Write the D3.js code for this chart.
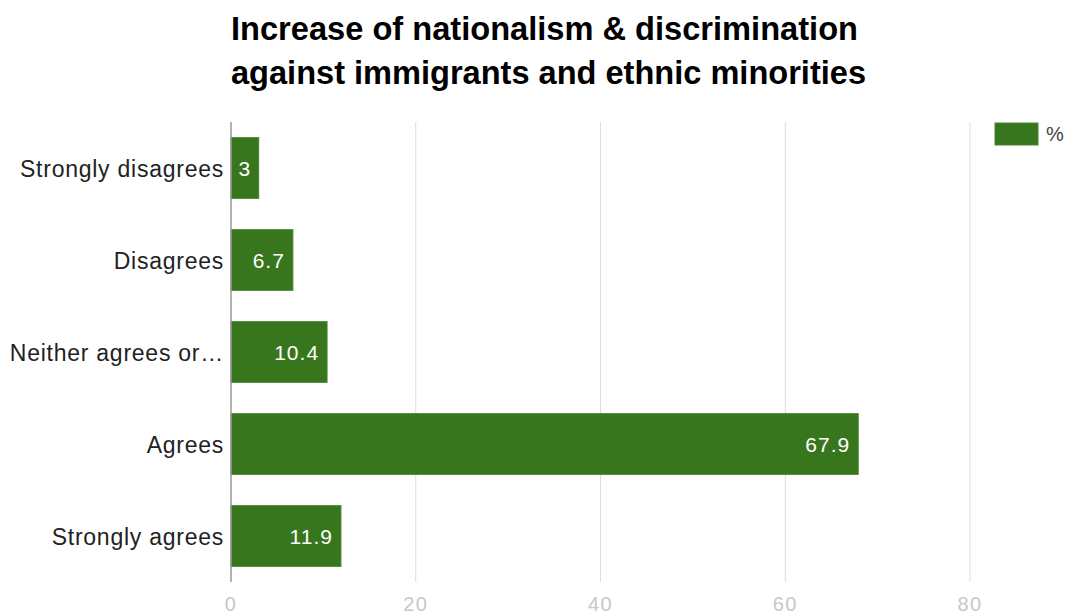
<!DOCTYPE html>
<html><head><meta charset="utf-8">
<script src="https://cdn.jsdelivr.net/npm/d3@7"></script>
<style>body{margin:0;background:#fff}svg{display:block;font-family:"Liberation Sans",Arial,sans-serif}</style>
</head><body>
<script>
const categories = ["Strongly disagrees","Disagrees","Neither agrees or disagrees","Agrees","Strongly agrees"];
const displayLabels = ["Strongly disagrees","Disagrees","Neither agrees or…","Agrees","Strongly agrees"];
const values = [3, 6.7, 10.4, 67.9, 11.9];
const ticks = [0, 20, 40, 60, 80];
const seriesName = "%";
const titleLines = ["Increase of nationalism & discrimination","against immigrants and ethnic minorities"];

const W = 1067, H = 615;
const svg = d3.select("body").append("svg").attr("width", W).attr("height", H);
const plotLeft = 231, plotTop = 122, plotBottom = 582;
const x = d3.scaleLinear().domain([0, 80]).range([plotLeft, 970]);
const y = d3.scaleBand().domain(categories).range([plotTop, plotBottom]).paddingInner(0.34).paddingOuter(0.17);

// title (condensed bold)
const titleWidths = [627, 635];
svg.append("g").selectAll("text").data(titleLines).join("text")
  .attr("x", plotLeft).attr("y", (d,i) => 40 + i*44)
  .attr("font-size", 34).attr("font-weight", "bold").attr("fill", "#000")
  .attr("textLength", (d,i) => titleWidths[i]).attr("lengthAdjust", "spacingAndGlyphs")
  .text(d => d);

// gridlines
svg.append("g").selectAll("line").data(ticks.slice(1)).join("line")
  .attr("x1", d => x(d)).attr("x2", d => x(d)).attr("y1", plotTop).attr("y2", plotBottom)
  .attr("stroke", "#dddddd").attr("stroke-width", 1);

// tick labels
svg.append("g").selectAll("text").data(ticks).join("text")
  .attr("x", d => x(d)).attr("y", 611).attr("text-anchor", "middle")
  .attr("font-size", 20).attr("letter-spacing", 1.5).attr("fill", "#c8c8c8").text(d => d);

// bars
svg.append("g").selectAll("rect").data(values).join("rect")
  .attr("x", x(0)).attr("y", (d,i) => y(categories[i]))
  .attr("width", d => x(d) - x(0)).attr("height", y.bandwidth())
  .attr("fill", "#38761d").attr("stroke", "#4a8430").attr("stroke-width", 1);

// baseline
svg.append("line").attr("x1", plotLeft).attr("x2", plotLeft).attr("y1", plotTop).attr("y2", plotBottom)
  .attr("stroke", "#999").attr("stroke-width", 1.5);

// category labels
svg.append("g").selectAll("text").data(categories).join("text")
  .attr("x", plotLeft - 7).attr("y", d => y(d) + y.bandwidth()/2 + 8.5)
  .attr("text-anchor", "end").attr("font-size", 23).attr("letter-spacing", 0.75).attr("fill", "#222")
  .text((d,i) => displayLabels[i]);

// value labels
svg.append("g").selectAll("text").data(values).join("text")
  .attr("x", d => d < 5 ? (x(0)+x(d))/2 : x(d) - 8)
  .attr("y", (d,i) => y(categories[i]) + y.bandwidth()/2 + 8)
  .attr("text-anchor", d => d < 5 ? "middle" : "end")
  .attr("font-size", 21).attr("letter-spacing", 1).attr("fill", "#fff").text(d => d);

// legend
svg.append("rect").attr("x", 995).attr("y", 123).attr("width", 43).attr("height", 22)
  .attr("fill", "#38761d").attr("stroke", "#4a8430");
svg.append("text").attr("x", 1046).attr("y", 141).attr("font-size", 20).attr("fill", "#444").text(seriesName);
</script>
</body></html>
